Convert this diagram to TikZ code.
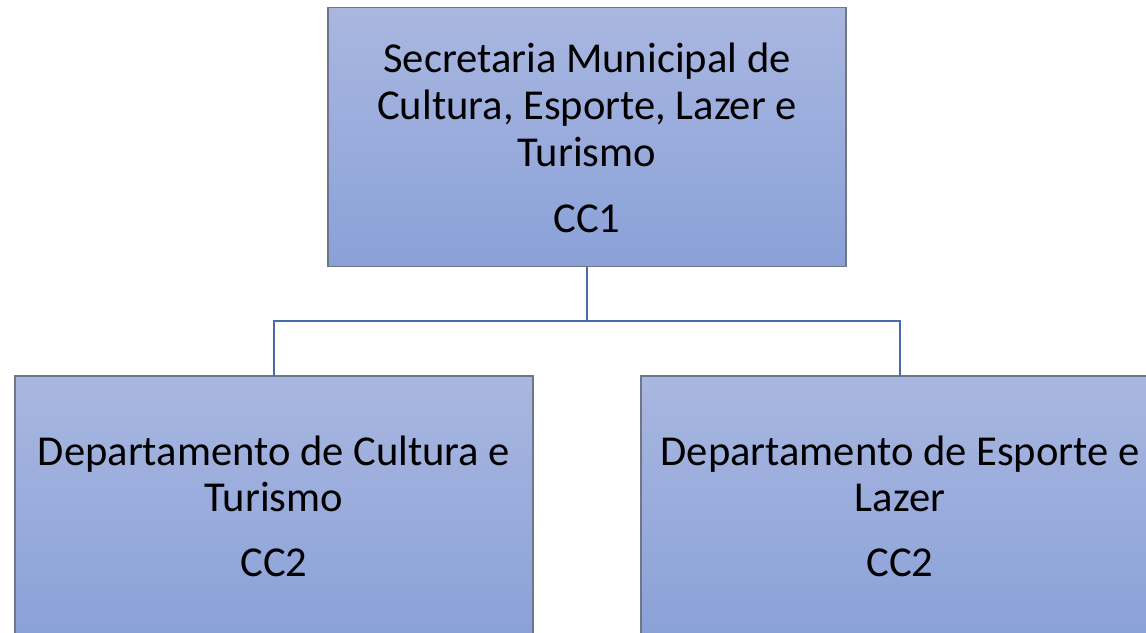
\documentclass[tikz,border=0pt]{standalone}
\usepackage{fontspec}
\setmainfont{Carlito}
\definecolor{boxtop}{HTML}{A9B7E0}
\definecolor{boxbot}{HTML}{8AA1D8}
\definecolor{boxline}{HTML}{6E7687}
\definecolor{connline}{HTML}{4A6AAA}
\begin{document}
\begin{tikzpicture}[x=1pt,y=1pt,
  orgbox/.style={draw=boxline,line width=1.2pt,top color=boxtop,bottom color=boxbot,
    minimum width=518pt,minimum height=259pt,inner sep=0pt,outer sep=0pt},
  lbl/.style={anchor=base,inner sep=0pt,font=\fontsize{42.6}{47}\selectfont,text=black},
  conn/.style={draw=connline,line width=2.3pt}]
\useasboundingbox (0,0) rectangle (1146,-632);
\fill[white] (0,0) rectangle (1146,-632);
\node[orgbox] (top) at (587,-137) {};
\node[orgbox] (left) at (274,-505.5) {};
\node[orgbox] (right) at (900,-505.5) {};
\coordinate (hub) at (587,-321);
\draw[conn] (top.south) -- (hub) -| (left.north);
\draw[conn] (hub) -| (right.north);
\node[lbl] (t1) at (587,-72) {Secretaria Municipal de};
\node[lbl] (t2) at (587,-119) {Cultura, Esporte, Lazer e};
\node[lbl] (t3) at (587,-166) {Turismo};
\node[lbl] (t4) at (587,-232) {CC1};
\node[lbl] (l1) at (274,-465) {Departamento de Cultura e};
\node[lbl] (l2) at (274,-511) {Turismo};
\node[lbl] (l3) at (274,-576) {CC2};
\node[lbl] (r1) at (900,-465) {Departamento de Esporte e};
\node[lbl] (r2) at (900,-511) {Lazer};
\node[lbl] (r3) at (900,-576) {CC2};
\end{tikzpicture}
\end{document}
